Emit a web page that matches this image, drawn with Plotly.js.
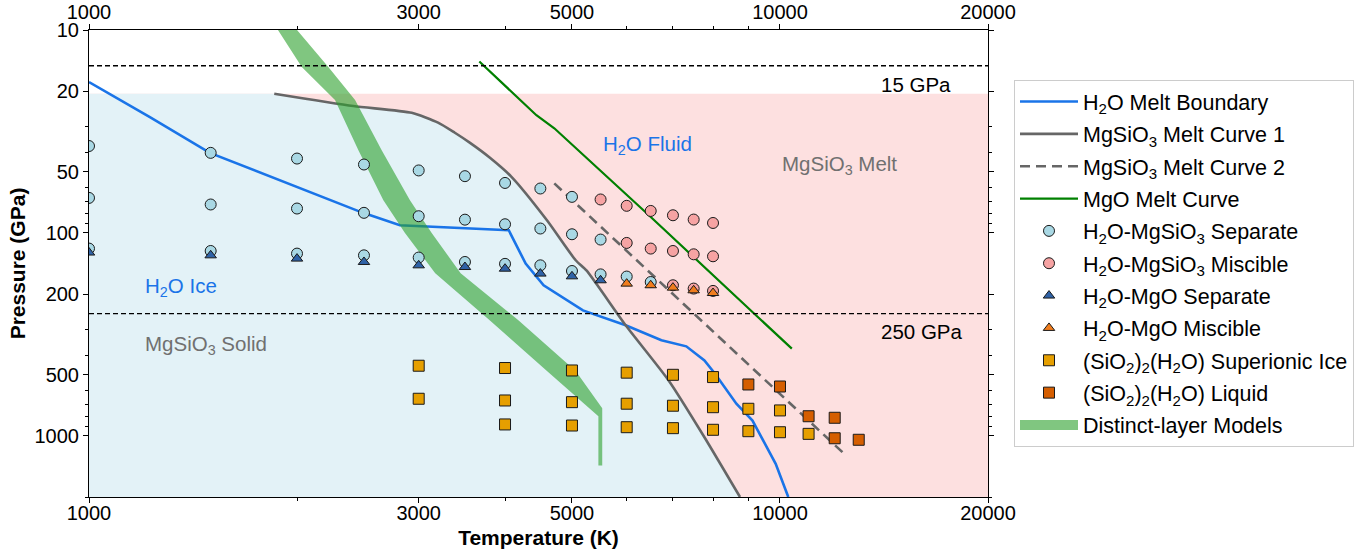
<!DOCTYPE html>
<html><head><meta charset="utf-8">
<script src="https://cdn.plot.ly/plotly-3.0.1.min.js"></script>
<style>html,body{margin:0;padding:0;background:#fff}#chart{width:1371px;height:555px}</style>
</head><body><div id="chart"></div>
<script>
// ---- axis extents ----
const tempRange = [1000, 20000];
const pressRange = [10, 2000];
const meltRegionTop = 20.6;        // GPa, top of shaded regions
const refPressures = [15, 250];    // dashed reference lines
const refLabels = ["15 GPa", "250 GPa"];

const xTickVals = [1000, 3000, 5000, 10000, 20000];
const xMinorVals = [2000, 4000, 6000, 7000, 8000, 9000];
const yTickVals = [10, 20, 50, 100, 200, 500, 1000];
const yMinorVals = [30, 40, 60, 70, 80, 90, 300, 400, 600, 700, 800, 900, 2000];

// ---- curves ----
const h2oMeltT = [1000, 1225, 1496, 2000, 2492, 2818, 3443, 4050, 4285, 4441, 4549, 5186, 5979, 6736, 7318, 7774, 8054, 8647, 9124, 9858, 10280];
const h2oMeltP = [18.05, 26.9, 40.3, 59.3, 79.6, 91.6, 94.5, 97, 141.6, 164.8, 181, 240.7, 285, 338, 362, 425, 494, 694, 840, 1373, 2000];

const mgsio3Melt1T = [1854, 2413, 2931, 3200, 3380, 3560, 3800, 4087, 4600, 5062, 5247, 5979, 6900, 7774, 8752];
const mgsio3Melt1P = [20.6, 23.7, 25.6, 28.6, 32.0, 36.0, 42.5, 52.9, 86.6, 136.3, 153, 285, 533, 1015, 2000];

const mgsio3Melt2T = [4714, 7499, 12360];
const mgsio3Melt2P = [57, 250, 1217];

const mgoMeltT = [3672, 4441, 4714, 6420, 9180, 10402];
const mgoMeltP = [14.3, 26.3, 30.5, 80.2, 250, 371.7];

// Distinct-layer models band: left edge (top→bottom) and right edge (bottom→top)
const bandLeftT  = [1877, 2032, 2270, 2454, 2667, 2866, 3170, 3804, 4600, 5343, 5460, 5460];
const bandLeftP  = [10, 15.2, 22.1, 39.1, 69, 100, 158, 270, 479, 753, 800, 1400];
const bandRightT = [5530, 5530, 5062, 4186, 3450, 3133, 2914, 2652, 2427, 2220, 2000];
const bandRightP = [1400, 730, 479, 270, 158, 100, 69, 39.1, 22.1, 15.2, 10];

// ---- simulation points ----
const sepCircT = [1000,1000,1000, 1500,1500,1500, 2000,2000,2000, 2500,2500,2500, 3000,3000,3000, 3500,3500,3500, 4000,4000,4000, 4500,4500,4500, 5000,5000,5000, 5500,5500, 6000, 6500];
const sepCircP = [37.3,67.2,119.4, 40.3,72.4,122.7, 43,75.8,126.4, 46,79.6,128.9, 49.2,82.7,132.2, 52.5,86,139, 56.7,90.6,142, 60.4,95.1,144.4, 66.4,101.5,154, 107.8,160, 164, 174.5];

const misCircT = [5500, 6000,6000, 6500,6500, 7000,7000,7000, 7500,7500,7500, 8000,8000,8000];
const misCircP = [68.4, 73.5,112, 77.9,119.4, 81.8,122.7,181, 85.9,127.4,188, 89.3,130.3,193];

const sepTriT = [1000,1500,2000,2500,3000,3500,4000,4500,5000,5500];
const sepTriP = [124.9,128.9,133.8,139,144.4,147.2,150,158.6,163.6,171.1];

const misTriT = [6000,6500,7000,7500,8000];
const misTriP = [177.7,181,186,191.7,197.7];

const supIceT = [3000,3000, 4000,4000,4000, 5000,5000,5000, 6000,6000,6000, 7000,7000,7000, 8000,8000,8000, 9000,9000, 10000,10000, 11000];
const supIceP = [451,656, 463,669,878, 476,682,889, 488,694,906, 500,710,916, 513,722,933, 735,948, 749,959, 977];

const liqT = [9000, 10000, 11000, 12000, 12000, 13000];
const liqP = [558, 571, 800, 814, 1027, 1045];

// ---- build traces ----
const FONT = "Liberation Sans, Arial, Helvetica, sans-serif";
const noHover = {hoverinfo: "skip", showlegend: false};
const BAND_COLOR = "rgba(44,160,44,0.6)";

const pinkBg = Object.assign({
  x: [tempRange[0], tempRange[1], tempRange[1], tempRange[0]],
  y: [meltRegionTop, meltRegionTop, pressRange[1], pressRange[1]],
  mode: "lines", fill: "toself", fillcolor: "#fde0e0", line: {width: 0}
}, noHover);

const blueBg = Object.assign({
  x: [tempRange[0]].concat(mgsio3Melt1T, [tempRange[0]]),
  y: [meltRegionTop].concat(mgsio3Melt1P, [pressRange[1]]),
  mode: "lines", fill: "toself", fillcolor: "#e3f2f7", line: {width: 0}
}, noHover);

let rank = 0;
function lg(name) { rank += 1; return {name: name, legendrank: rank, legendgroup: "g" + rank}; }

const tH2O = Object.assign({x: h2oMeltT, y: h2oMeltP, mode: "lines",
  line: {color: "#1a74e8", width: 2.6}}, lg("H<sub>2</sub>O Melt Boundary"));
const tM1 = Object.assign({x: mgsio3Melt1T, y: mgsio3Melt1P, mode: "lines", line: {color: "#666666", width: 2.6, shape: "spline", smoothing: 0.6}},
  lg("MgSiO<sub>3</sub> Melt Curve 1"));
const tM2 = Object.assign({x: mgsio3Melt2T, y: mgsio3Melt2P, mode: "lines",
  line: {color: "#666666", width: 2.6, dash: "10px,6px"}}, lg("MgSiO<sub>3</sub> Melt Curve 2"));
const tMgO = Object.assign({x: mgoMeltT, y: mgoMeltP, mode: "lines",
  line: {color: "#008000", width: 2.2}}, lg("MgO Melt Curve"));

const edge = {color: "#1a1a1a", width: 1};
const tSepC = Object.assign({x: sepCircT, y: sepCircP, mode: "markers",
  marker: {symbol: "circle", size: 11, color: "#a9d8e4", line: edge}}, lg("H<sub>2</sub>O-MgSiO<sub>3</sub> Separate"));
const tMisC = Object.assign({x: misCircT, y: misCircP, mode: "markers",
  marker: {symbol: "circle", size: 11, color: "#f6a3a3", line: edge}}, lg("H<sub>2</sub>O-MgSiO<sub>3</sub> Miscible"));
const tSepT = Object.assign({x: sepTriT, y: sepTriP, mode: "markers",
  marker: {symbol: "triangle-up", size: 10, color: "#2f62a6", line: edge}}, lg("H<sub>2</sub>O-MgO Separate"));
const tMisT = Object.assign({x: misTriT, y: misTriP, mode: "markers",
  marker: {symbol: "triangle-up", size: 10, color: "#f07d1e", line: edge}}, lg("H<sub>2</sub>O-MgO Miscible"));
const tSup = Object.assign({x: supIceT, y: supIceP, mode: "markers",
  marker: {symbol: "square", size: 11, color: "#e69f00", line: edge}}, lg("(SiO<sub>2</sub>)<sub>2</sub>(H<sub>2</sub>O) Superionic Ice"));
const tLiq = Object.assign({x: liqT, y: liqP, mode: "markers",
  marker: {symbol: "square", size: 11, color: "#d55e00", line: edge}}, lg("(SiO<sub>2</sub>)<sub>2</sub>(H<sub>2</sub>O) Liquid"));

const bandMeta = lg("Distinct-layer Models");
const tBand = {x: bandLeftT.concat(bandRightT), y: bandLeftP.concat(bandRightP),
  mode: "lines", fill: "toself", fillcolor: BAND_COLOR, line: {width: 0, color: BAND_COLOR},
  name: bandMeta.name, legendgroup: bandMeta.legendgroup, showlegend: false, hoverinfo: "x+y+name"};
// legend swatch for the band (no drawn data)
const tBandKey = Object.assign({x: [null], y: [null], mode: "lines", line: {color: BAND_COLOR, width: 16}, hoverinfo: "skip"}, bandMeta);

// reference dashed lines (drawn on top x-axis)
const refX = [], refY = [];
refPressures.forEach(function (p) { refX.push(tempRange[0], tempRange[1], null); refY.push(p, p, null); });
const tRef = Object.assign({x: refX, y: refY, xaxis: "x2", yaxis: "y", mode: "lines",
  line: {color: "#000", width: 1.3, dash: "5px,3px"}}, noHover);

[tH2O, tM1, tM2, tMgO, tSepC, tMisC, tSepT, tMisT, tSup, tLiq].forEach(function (t) { t.hoverinfo = "x+y+name"; });

const data = [pinkBg, blueBg, tH2O, tM1, tM2, tMgO, tBand, tSepC, tMisC, tSepT, tMisT, tSup, tLiq, tBandKey, tRef];

// ---- layout ----
const L = 89, R = 383, T = 30, B = 58, W = 1371, H = 555;
const pw = W - L - R, ph = H - T - B;
const px = function (x) { return (x - L) / pw; };
const py = function (y) { return (H - B - y) / ph; };

const tickFont = {family: FONT, size: 20, color: "#000"};
const xr = [Math.log10(tempRange[0]), Math.log10(tempRange[1])];
const yr = [Math.log10(pressRange[1]), Math.log10(pressRange[0])];
const minorCfg = function (vals) { return {tickmode: "array", tickvals: vals, ticks: "outside", ticklen: 3, tickcolor: "#000", tickwidth: 1, showgrid: false}; };

const layout = {
  width: W, height: H,
  margin: {l: L, r: R, t: T, b: B, pad: 0},
  paper_bgcolor: "#fff", plot_bgcolor: "#fff",
  font: {family: FONT, size: 19, color: "#000"},
  showlegend: true,
  xaxis: {
    type: "log", range: xr, tickmode: "array", tickvals: xTickVals, ticktext: xTickVals.map(String),
    ticks: "outside", ticklen: 5, tickwidth: 1, tickcolor: "#000", tickfont: tickFont, ticklabelstandoff: -7,
    showline: true, linecolor: "#000", linewidth: 1, mirror: false, showgrid: false, zeroline: false,
    minor: minorCfg(xMinorVals),
    title: {text: "<b>Temperature (K)</b>", font: {family: FONT, size: 21, color: "#000"}, standoff: 7}
  },
  xaxis2: {
    type: "log", range: xr, overlaying: "x", side: "top", anchor: "y",
    tickmode: "array", tickvals: xTickVals, ticktext: xTickVals.map(String),
    ticks: "outside", ticklen: 5, tickwidth: 1, tickcolor: "#000", tickfont: tickFont, ticklabelstandoff: -3,
    showline: true, linecolor: "#000", linewidth: 1, showgrid: false, zeroline: false,
    minor: minorCfg(xMinorVals)
  },
  yaxis: {
    type: "log", range: yr, tickmode: "array", tickvals: yTickVals, ticktext: yTickVals.map(String),
    ticks: "outside", ticklen: 5, tickwidth: 1, tickcolor: "#000", tickfont: tickFont,
    showline: true, linecolor: "#000", linewidth: 1, mirror: "ticks", showgrid: false, zeroline: false,
    minor: minorCfg(yMinorVals),
    title: {text: "<b>Pressure (GPa)</b>", font: {family: FONT, size: 21, color: "#000"}, standoff: 3}
  },
  legend: {
    x: px(1014), y: py(80), xanchor: "left", yanchor: "top",
    bgcolor: "#fff", bordercolor: "#cccccc", borderwidth: 1,
    font: {family: FONT, size: 21.5, color: "#000"},
    traceorder: "grouped", tracegroupgap: 1.4, itemwidth: 58
  },
  annotations: [
    {text: refLabels[0], x: px(953), y: py(84.5), xanchor: "right"},
    {text: refLabels[1], x: px(965), y: py(331.5), xanchor: "right"},
    {text: "H<sub>2</sub>O Fluid", x: px(601), y: py(145), xanchor: "left", font: {color: "#1a74e8"}},
    {text: "MgSiO<sub>3</sub> Melt", x: px(780), y: py(165), xanchor: "left", font: {color: "#707070"}},
    {text: "H<sub>2</sub>O Ice", x: px(143), y: py(286.7), xanchor: "left", font: {color: "#1a74e8"}},
    {text: "MgSiO<sub>3</sub> Solid", x: px(143), y: py(345), xanchor: "left", font: {color: "#707070"}}
  ].map(function (a) {
    return Object.assign({xref: "paper", yref: "paper", yanchor: "middle", showarrow: false},
      a, {font: Object.assign({family: FONT, size: 20.5, color: "#000"}, a.font || {})});
  })
};

Plotly.newPlot("chart", data, layout, {displayModeBar: false, staticPlot: true});
</script>
</body></html>
